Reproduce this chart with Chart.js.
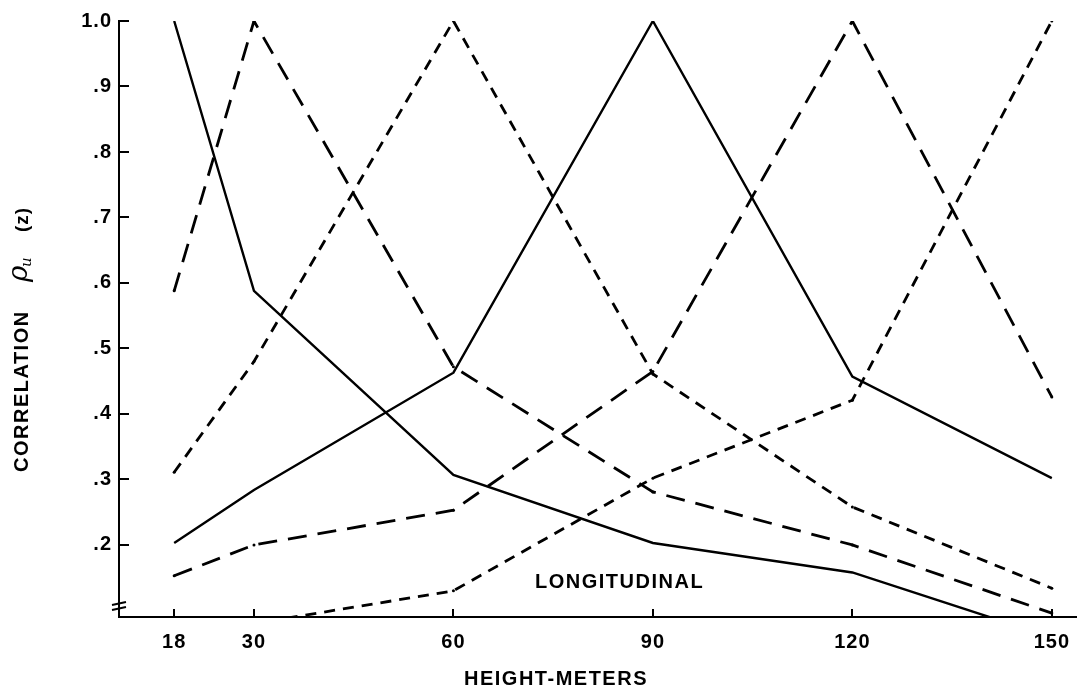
<!DOCTYPE html>
<html>
<head>
<meta charset="utf-8">
<script src="https://cdn.jsdelivr.net/npm/chart.js@4.4.1/dist/chart.umd.min.js"></script>
<style>
  html, body { margin: 0; padding: 0; background: #fff; }
  #wrap { width: 1083px; height: 689px; position: relative; }
</style>
</head>
<body>
<div id="wrap"><canvas id="c" width="1083" height="689"></canvas></div>
<script>
// Measurement heights (m) and the tick labels used on each axis
const heights = [18, 30, 60, 90, 120, 150];
const xTicks = [18, 30, 60, 90, 120, 150];
const yTicks = [0.2, 0.3, 0.4, 0.5, 0.6, 0.7, 0.8, 0.9, 1.0];

// Longitudinal correlation with the reference height given in each name
const ref18  = [1.0,   0.588, 0.307, 0.203, 0.158, 0.059];
const ref30  = [0.588, 1.0,   0.472, 0.281, 0.200, 0.096];
const ref60  = [0.311, 0.480, 1.0,   0.461, 0.258, 0.134];
const ref90  = [0.203, 0.284, 0.463, 1.0,   0.457, 0.302];
const ref120 = [0.153, 0.200, 0.253, 0.465, 1.0,   0.426];
const ref150 = [0.060, 0.080, 0.130, 0.302, 0.421, 1.0];

const SOLID = [];
const LONG_DASH = [19, 11];
const SHORT_DASH = [11, 8];

function series(label, values, dash) {
  const dashed = dash.length > 0;
  return {
    label,
    data: heights.map((h, i) => ({ x: h, y: values[i] })),
    borderColor: '#000',
    backgroundColor: '#000',
    borderWidth: dashed ? 2.8 : 2.4,
    borderDash: dash,
    borderCapStyle: 'butt',
    borderJoinStyle: 'miter',
    pointRadius: dashed ? 1.5 : 0,
    pointBorderWidth: 0,
    pointHoverRadius: 0,
    tension: 0,
    fill: false
  };
}

const FONT = 'Liberation Sans, Arial, Helvetica, sans-serif';

// Extra drawing: inward tick marks, axis break, axis titles and the label
const decor = {
  id: 'decor',
  beforeLayout(chart) { chart.ctx.letterSpacing = '1px'; },
  beforeDraw(chart) {
    const ctx = chart.ctx;
    ctx.save();
    ctx.fillStyle = '#fff';
    ctx.fillRect(0, 0, chart.width, chart.height);
    ctx.restore();
    ctx.letterSpacing = '1px';
  },
  afterDraw(chart) {
    const ctx = chart.ctx;
    const xs = chart.scales.x, ys = chart.scales.y;
    const x0 = chart.chartArea.left, y0 = chart.chartArea.bottom;
    ctx.save();
    ctx.strokeStyle = '#000';
    ctx.fillStyle = '#000';
    ctx.lineWidth = 2;
    ctx.beginPath();
    yTicks.forEach(v => {
      const p = Math.round(ys.getPixelForValue(v));
      ctx.moveTo(x0, p);
      ctx.lineTo(x0 + 10, p);
    });
    xTicks.forEach(v => {
      const p = Math.round(xs.getPixelForValue(v));
      ctx.moveTo(p, y0);
      ctx.lineTo(p, y0 - 8);
    });
    ctx.stroke();

    // axis break on the value axis
    ctx.beginPath();
    ctx.moveTo(x0 - 7, y0 - 12);
    ctx.lineTo(x0 + 7, y0 - 15);
    ctx.moveTo(x0 - 7, y0 - 7);
    ctx.lineTo(x0 + 7, y0 - 10);
    ctx.stroke();

    ctx.letterSpacing = '1.5px';
    ctx.textBaseline = 'alphabetic';

    // x-axis title
    ctx.font = 'bold 20px ' + FONT;
    ctx.textAlign = 'center';
    ctx.fillText('HEIGHT-METERS', 556, 685);

    // annotation inside the plot
    ctx.font = 'bold 20px ' + FONT;
    ctx.textAlign = 'left';
    ctx.fillText('LONGITUDINAL', 535, 588);

    // y-axis title, reading upwards
    ctx.translate(28, 472);
    ctx.rotate(-Math.PI / 2);
    ctx.font = 'bold 20px ' + FONT;
    ctx.fillText('CORRELATION', 0, 0);
    ctx.letterSpacing = '0px';
    ctx.font = 'italic 28px "DejaVu Serif", "Liberation Serif", serif';
    ctx.fillText('\u03C1', 190, -1);
    ctx.font = 'italic 15px "DejaVu Serif", "Liberation Serif", serif';
    ctx.fillText('u', 205, 3);
    ctx.font = 'bold 19px ' + FONT;
    ctx.letterSpacing = '1px';
    ctx.fillText('(z)', 240, 0);
    ctx.restore();
  }
};

Chart.defaults.font.family = FONT;
Chart.defaults.font.size = 20;
Chart.defaults.font.weight = 'bold';
Chart.defaults.color = '#000';

new Chart(document.getElementById('c'), {
  type: 'line',
  data: {
    datasets: [
      series('18 m', ref18, SOLID),
      series('30 m', ref30, LONG_DASH),
      series('60 m', ref60, SHORT_DASH),
      series('90 m', ref90, SOLID),
      series('120 m', ref120, LONG_DASH),
      series('150 m', ref150, SHORT_DASH)
    ]
  },
  options: {
    responsive: false,
    animation: false,
    events: [],
    layout: { autoPadding: false, padding: { top: 21, right: 0, bottom: 0, left: 0 } },
    plugins: {
      legend: { display: false },
      tooltip: { enabled: false },
      title: { display: false }
    },
    scales: {
      x: {
        type: 'linear',
        position: 'bottom',
        min: 9.7,
        max: 153.7,
        afterBuildTicks: s => { s.ticks = xTicks.map(v => ({ value: v })); },
        afterFit: s => { s.height = 72; },
        ticks: {
          autoSkip: false,
          maxRotation: 0,
          padding: 13,
          callback: v => String(v)
        },
        grid: { display: true, drawOnChartArea: false, drawTicks: false },
        border: { display: true, color: '#000', width: 2 }
      },
      y: {
        type: 'linear',
        position: 'left',
        min: 0.09,
        max: 1.0,
        afterBuildTicks: s => { s.ticks = yTicks.map(v => ({ value: v })); },
        afterFit: s => { s.width = 119; },
        ticks: {
          autoSkip: false,
          padding: 7,
          callback: v => (v >= 0.999 ? '1.0' : '.' + Math.round(v * 10))
        },
        grid: { display: true, drawOnChartArea: false, drawTicks: false },
        border: { display: true, color: '#000', width: 2 }
      }
    }
  },
  plugins: [decor]
});
</script>
</body>
</html>
